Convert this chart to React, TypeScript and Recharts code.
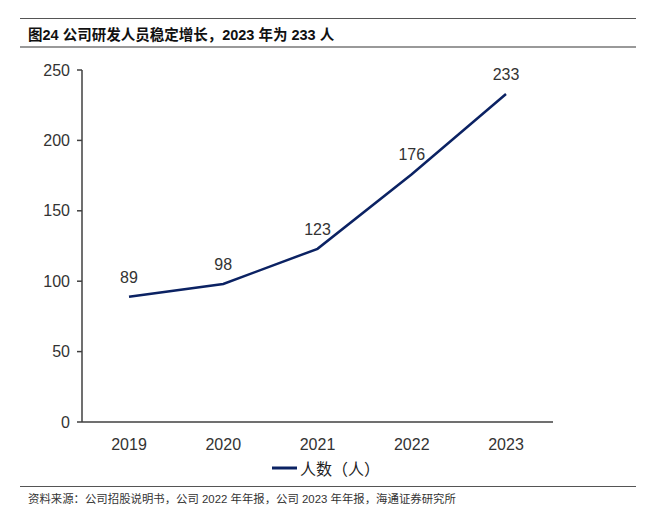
import React from "react";
import { LineChart, Line, XAxis, YAxis, LabelList } from "recharts";

const years = ["2019", "2020", "2021", "2022", "2023"];
const staff = [89, 98, 123, 176, 233];
const yTicks = [0, 50, 100, 150, 200, 250];

const data = years.map((y, i) => ({ year: y, value: staff[i] }));

const NAVY = "#0b2263";
const AXIS = "#404040";
const FONT = "'Liberation Sans', Arial, 'Noto Sans CJK SC', sans-serif";

export default function App() {
  return (
    <div style={{ position: "absolute", left: 0, top: 0, width: 655, height: 519, background: "#fff", fontFamily: FONT }}>
      <div style={{ position: "absolute", left: 20, top: 18, width: 616, height: 0, borderTop: "1.5px solid #555" }} />
      <div style={{ position: "absolute", left: 28, top: 23, fontSize: 14.5, fontWeight: "bold", color: "#111", whiteSpace: "nowrap", fontFamily: "'Liberation Sans', 'Noto Sans CJK SC', sans-serif" }}>
        图24 公司研发人员稳定增长，2023 年为 233 人
      </div>
      <div style={{ position: "absolute", left: 20, top: 46, width: 616, height: 0, borderTop: "2px solid #999" }} />
      <div style={{ position: "absolute", left: 0, top: 0 }}>
        <LineChart width={655} height={519} data={data} margin={{ top: 70, right: 102, bottom: 67, left: 0 }}>
          <XAxis
            dataKey="year"
            padding={{ left: 47, right: 47 }}
            tickLine={false}
            tickSize={0}
            tickMargin={17}
            height={30}
            stroke={AXIS}
            strokeWidth={1.5}
            tick={{ fill: "#333", fontSize: 16, fontFamily: FONT }}
          />
          <YAxis
            domain={[0, 250]}
            ticks={yTicks}
            width={82}
            tickSize={5}
            tickMargin={7}
            stroke={AXIS}
            strokeWidth={1.5}
            tick={{ fill: "#333", fontSize: 16, fontFamily: FONT }}
          />
          <Line
            type="linear"
            dataKey="value"
            stroke={NAVY}
            strokeWidth={2.5}
            dot={false}
            isAnimationActive={false}
          >
            <LabelList dataKey="value" position="top" offset={14} fill="#333" fontSize={16} fontFamily={FONT} />
          </Line>
        </LineChart>
      </div>
      <div style={{ position: "absolute", left: 272, top: 456, display: "flex", alignItems: "center", whiteSpace: "nowrap" }}>
        <svg width={25} height={6} style={{ marginRight: 3 }}>
          <line x1={0} y1={3} x2={25} y2={3} stroke={NAVY} strokeWidth={3} />
        </svg>
        <span style={{ fontSize: 16, color: "#222", fontFamily: "'Noto Sans CJK SC', sans-serif" }}>人数（人）</span>
      </div>
      <div style={{ position: "absolute", left: 20, top: 486, width: 616, height: 0, borderTop: "1.5px solid #555" }} />
      <div style={{ position: "absolute", left: 28, top: 490, fontSize: 11.4, color: "#333", whiteSpace: "nowrap", fontFamily: "'Liberation Sans', 'Noto Sans CJK SC', sans-serif" }}>
        资料来源：公司招股说明书，公司 2022 年年报，公司 2023 年年报，海通证券研究所
      </div>
    </div>
  );
}
